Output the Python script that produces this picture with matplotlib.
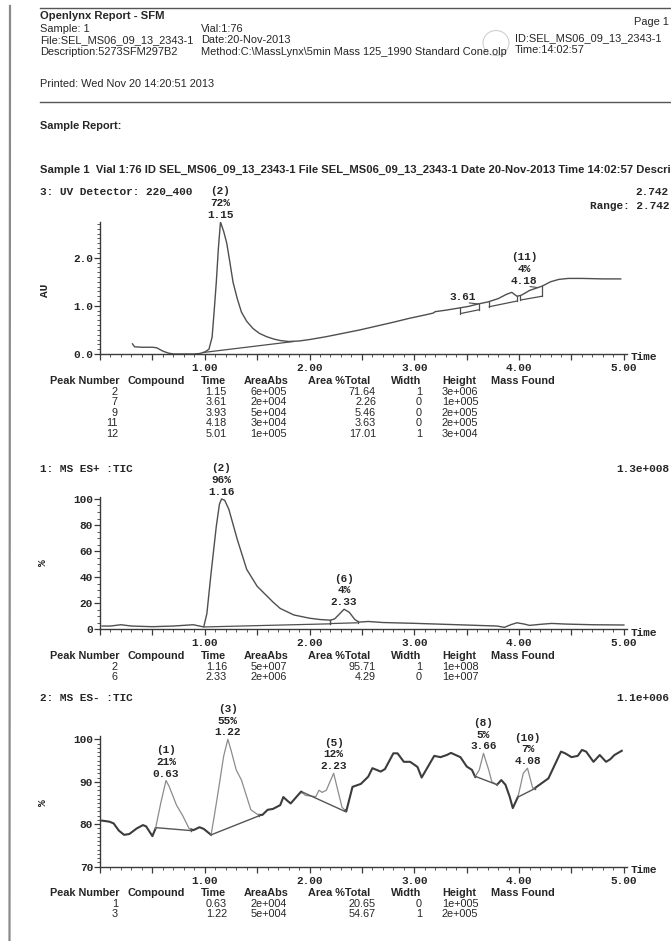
import matplotlib
matplotlib.use("Agg")
import matplotlib.pyplot as plt
import numpy as np
from matplotlib.ticker import MultipleLocator, FuncFormatter
from matplotlib.patches import Ellipse
from matplotlib.lines import Line2D

# ---------------------------------------------------------------- report data
REPORT_TITLE = "Openlynx Report - SFM"
HEADER_LEFT = ["Sample: 1", "File:SEL_MS06_09_13_2343-1", "Description:5273SFM297B2"]
HEADER_MID = ["Vial:1:76", "Date:20-Nov-2013",
              "Method:C:\\MassLynx\\5min Mass 125_1990 Standard Cone.olp"]
HEADER_RIGHT = ["ID:SEL_MS06_09_13_2343-1", "Time:14:02:57"]
PAGE_LABEL = "Page 1"
PRINTED = "Printed: Wed Nov 20 14:20:51 2013"
SECTION = "Sample Report:"
SAMPLE_LINE = ("Sample 1  Vial 1:76 ID SEL_MS06_09_13_2343-1 File SEL_MS06_09_13_2343-1 "
               "Date 20-Nov-2013 Time 14:02:57 Description 5273SFM297B2")

TABLE_COLUMNS = ["Peak Number", "Compound", "Time", "AreaAbs", "Area %Total",
                 "Width", "Height", "Mass Found"]

# --- 3: UV Detector 220_400 (AU)
UV_TIME = [0.31, 0.33, 0.40, 0.50, 0.54, 0.60, 0.65, 0.70, 0.80, 0.90, 0.95, 1.00,
           1.04, 1.07, 1.09, 1.11, 1.13, 1.15, 1.18, 1.21, 1.24, 1.27, 1.31, 1.35,
           1.40, 1.46, 1.52, 1.59, 1.66, 1.72, 1.80, 1.90, 2.00, 2.16, 2.32, 2.48,
           2.64, 2.80, 2.95, 3.10, 3.18, 3.20, 3.30, 3.44, 3.52, 3.61, 3.70, 3.80,
           3.88, 3.93, 3.98, 4.02, 4.10, 4.18, 4.22, 4.30, 4.38, 4.47, 4.60, 4.80, 4.97]
UV_AU = [0.21, 0.15, 0.14, 0.14, 0.13, 0.06, 0.02, 0.00, 0.00, 0.00, 0.01, 0.04,
         0.10, 0.35, 0.90, 1.49, 2.20, 2.742, 2.55, 2.30, 1.90, 1.49, 1.15, 0.87,
         0.68, 0.53, 0.43, 0.36, 0.31, 0.28, 0.26, 0.27, 0.30, 0.36, 0.43, 0.50,
         0.58, 0.66, 0.74, 0.81, 0.85, 0.88, 0.91, 0.96, 0.99, 1.04, 1.08, 1.15,
         1.24, 1.28, 1.20, 1.22, 1.32, 1.38, 1.41, 1.50, 1.55, 1.57, 1.57, 1.56, 1.56]
UV_FULL_SCALE = 2.742
UV_LABEL_PEAK = [2, 11]
UV_LABEL_PCT = [72, 4]
UV_LABEL_TIME = [1.15, 4.18]
UV_TIME_ONLY = [3.61]
# integration baselines: start time, end time, start level, end level
UV_BASELINES = [(0.98, 1.85, 0.03, 0.26), (3.44, 3.62, 0.84, 0.92),
                (3.71, 3.98, 0.98, 1.10), (4.01, 4.22, 1.12, 1.20)]
UV_TABLE = [("2", "1.15", "6e+005", "71.64", "1", "3e+006"),
            ("7", "3.61", "2e+004", "2.26", "0", "1e+005"),
            ("9", "3.93", "5e+004", "5.46", "0", "2e+005"),
            ("11", "4.18", "3e+004", "3.63", "0", "2e+005"),
            ("12", "5.01", "1e+005", "17.01", "1", "3e+004")]

# --- 1: MS ES+ TIC (%)
ESP_TIME = [0.02, 0.10, 0.20, 0.30, 0.50, 0.70, 0.89, 0.95, 0.99, 1.02, 1.06, 1.11,
            1.14, 1.16, 1.19, 1.23, 1.31, 1.40, 1.50, 1.65, 1.72, 1.85, 2.00, 2.10,
            2.20, 2.24, 2.33, 2.38, 2.43, 2.47, 2.56, 2.70, 2.99, 3.30, 3.60, 3.79,
            3.86, 3.92, 3.98, 4.05, 4.10, 4.20, 4.31, 4.45, 4.70, 5.00]
ESP_PCT = [2.5, 2.5, 3.5, 2.5, 2.0, 2.5, 3.5, 2.5, 1.8, 12, 43, 79,
           96, 100, 99, 92, 69, 46, 33, 21, 16, 11, 8.5, 7.5,
           7.0, 8.0, 15.4, 13, 7.7, 5.5, 6.0, 5.2, 4.6, 3.8, 3.0, 2.5,
           1.5, 3.5, 5.0, 4.0, 3.0, 3.8, 4.5, 4.0, 3.5, 3.3]
ESP_FULL_SCALE = "1.3e+008"
ESP_LABEL_PEAK = [2, 6]
ESP_LABEL_PCT = [96, 4]
ESP_LABEL_TIME = [1.16, 2.33]
ESP_BASELINES = [(0.99, 2.20, 1.8, 4.2), (2.20, 2.46, 4.4, 5.0)]
ESP_TABLE = [("2", "1.16", "5e+007", "95.71", "1", "1e+008"),
             ("6", "2.33", "2e+006", "4.29", "0", "1e+007")]

# --- 2: MS ES- TIC (%)
ESN_TIME = [0.02, 0.09, 0.13, 0.18, 0.23, 0.28, 0.35, 0.41, 0.44, 0.50, 0.53, 0.58,
            0.63, 0.66, 0.73, 0.79, 0.85, 0.89, 0.95, 0.99, 1.06, 1.09, 1.13, 1.18,
            1.22, 1.25, 1.30, 1.35, 1.40, 1.44, 1.51, 1.55, 1.60, 1.65, 1.72, 1.75,
            1.79, 1.82, 1.92, 1.96, 2.06, 2.09, 2.12, 2.16, 2.23, 2.31, 2.35, 2.41,
            2.49, 2.56, 2.60, 2.68, 2.72, 2.80, 2.84, 2.90, 2.96, 3.03, 3.07, 3.15,
            3.19, 3.25, 3.31, 3.35, 3.44, 3.50, 3.55, 3.58, 3.62, 3.66, 3.71, 3.74,
            3.79, 3.83, 3.87, 3.91, 3.94, 3.99, 4.04, 4.08, 4.13, 4.15, 4.28, 4.40,
            4.44, 4.50, 4.56, 4.60, 4.64, 4.71, 4.77, 4.83, 4.87, 4.91, 4.98]
ESN_PCT = [80.85, 80.6, 80.2, 78.5, 77.5, 77.7, 79.0, 79.8, 79.5, 77.2, 79.0, 85.0,
           90.3, 88.9, 84.5, 82.0, 79.0, 78.6, 79.3, 78.9, 77.5, 81.8, 88.0, 96.0,
           100.0, 97.5, 92.8, 90.4, 86.5, 83.4, 82.2, 82.2, 83.4, 83.6, 84.5, 86.4,
           85.5, 84.9, 87.7, 86.8, 86.5, 88.0, 87.5, 88.0, 92.0, 84.0, 83.0, 88.8,
           89.5, 91.2, 93.2, 92.4, 93.0, 96.7, 96.7, 94.7, 94.7, 93.5, 91.0, 94.4,
           96.1, 95.8, 96.3, 96.8, 95.8, 93.6, 92.8, 91.2, 92.8, 96.7, 92.8, 90.0,
           89.3, 90.4, 89.3, 86.5, 83.8, 86.5, 92.0, 93.2, 88.5, 88.5, 90.8, 97.1,
           96.7, 95.8, 96.1, 97.5, 97.1, 94.7, 96.3, 94.7, 95.3, 96.3, 97.3]
ESN_FULL_SCALE = "1.1e+006"
ESN_LABEL_PEAK = [1, 3, 5, 8, 10]
ESN_LABEL_PCT = [21, 55, 12, 5, 7]
ESN_LABEL_TIME = [0.63, 1.22, 2.23, 3.66, 4.08]
ESN_BASELINES = [(0.53, 0.87, 79.2, 78.5), (1.06, 1.52, 77.5, 82.0),
                 (1.93, 2.34, 87.6, 83.0), (3.58, 3.79, 91.3, 89.3),
                 (3.99, 4.15, 86.4, 88.4)]
ESN_TABLE = [("1", "0.63", "2e+004", "20.65", "0", "1e+005"),
             ("3", "1.22", "5e+004", "54.67", "1", "2e+005")]

# ---------------------------------------------------------------- page setup
W, H = 671, 941
fig = plt.figure(figsize=(W / 100, H / 100), dpi=100)
fig.patch.set_facecolor("white")

SANS = "Liberation Sans"
MONO = "Liberation Mono"
INK = "#262626"
TRACE = "#4f4f4f"
PX2PT = 72 / 100


def ftext(x, y, s, **kw):
    """Place text using page pixel coordinates (origin top-left)."""
    kw.setdefault("color", INK)
    kw.setdefault("va", "center")
    fig.text(x / W, 1 - y / H, s, **kw)


def fline(xs, ys, **kw):
    fig.add_artist(Line2D([x / W for x in xs], [1 - y / H for y in ys],
                          transform=fig.transFigure, **kw))


# page frame and rules
fline([10, 9.5], [6, 941], color="#8a8a8a", lw=1.6)
fline([40, W], [7.5, 7.5], color="#555555", lw=1.0)
fline([40, W], [102, 102], color="#555555", lw=1.0)
fig.add_artist(Ellipse((496 / W, 1 - 43 / H), 26 / W, 25 / H, transform=fig.transFigure,
                       fill=False, ec="#cfcfcf", lw=0.8))

# header block
ftext(40.5, 16, REPORT_TITLE, family=SANS, weight="bold", fontsize=8.1)
for i, s in enumerate(HEADER_LEFT):
    ftext(40.5, 28.5 + 11.8 * i, s, family=SANS, fontsize=7.9)
for i, s in enumerate(HEADER_MID):
    ftext(201, 28.5 + 11.8 * i, s, family=SANS, fontsize=7.9)
ftext(669, 22, PAGE_LABEL, family=SANS, fontsize=7.9, ha="right")
for i, s in enumerate(HEADER_RIGHT):
    ftext(515, 38 + 12 * i, s, family=SANS, fontsize=7.9)
ftext(40.5, 84, PRINTED, family=SANS, fontsize=7.9)
ftext(40.5, 126, SECTION, family=SANS, weight="bold", fontsize=7.9)
ftext(40.5, 170, SAMPLE_LINE, family=SANS, weight="bold", fontsize=8.1)

# ---------------------------------------------------------------- chart panels
X_LEFT, X_RIGHT = 100, 627
T_MAX = 5.03
MONO_KW = dict(family=MONO, weight="bold", fontsize=8, color=INK)


def make_axes(top, bottom, ylim, ymajor, yminor, yfmt):
    ax = fig.add_axes([X_LEFT / W, 1 - bottom / H, (X_RIGHT - X_LEFT) / W, (bottom - top) / H])
    ax.set_xlim(0, T_MAX)
    ax.set_ylim(*ylim)
    for side in ("top", "right"):
        ax.spines[side].set_visible(False)
    for side in ("left", "bottom"):
        ax.spines[side].set_color("#3a3a3a")
        ax.spines[side].set_linewidth(1.0)
    ax.xaxis.set_major_locator(MultipleLocator(0.5))
    ax.xaxis.set_minor_locator(MultipleLocator(0.1))
    ax.xaxis.set_major_formatter(FuncFormatter(
        lambda v, p: f"{v:.2f}" if v > 0.5 and abs(v - round(v)) < 1e-6 else ""))
    ax.yaxis.set_major_locator(MultipleLocator(ymajor))
    ax.yaxis.set_minor_locator(MultipleLocator(yminor))
    ax.yaxis.set_major_formatter(FuncFormatter(yfmt))
    ax.tick_params(which="major", direction="out", length=4, width=0.9, color="#3a3a3a")
    ax.tick_params(which="minor", direction="out", length=2.2, width=0.7, color="#555555")
    ax.tick_params(axis="x", pad=2.5)
    ax.tick_params(axis="y", pad=1)
    for lab in ax.get_xticklabels() + ax.get_yticklabels():
        lab.set_fontfamily(MONO)
        lab.set_fontweight("bold")
        lab.set_fontsize(8)
        lab.set_color(INK)
    ax.set_facecolor("none")
    ax.annotate("Time", xy=(1.0, 0), xycoords="axes fraction", xytext=(4 * PX2PT, -3.5 * PX2PT),
                textcoords="offset points", ha="left", va="center",
                annotation_clip=False, **MONO_KW)
    return ax


def draw_baselines(ax, T, V, baselines, color, lw):
    for t0, t1, b0, b1 in baselines:
        ax.plot([t0, t1], [b0, b1], color=color, lw=lw, solid_capstyle="butt")
        for t, b in ((t0, b0), (t1, b1)):
            ax.plot([t, t], [np.interp(t, T, V), b], color=color, lw=lw)


def peak_label(ax, T, V, peak, pct, t, dx_px=0, leader=False):
    lines = [] if peak is None else [f"({peak})", f"{pct}%"]
    lines.append(f"{t:.2f}")
    apex = np.interp(t, T, V)
    base = 7.0
    for k, s in enumerate(reversed(lines)):
        ax.annotate(s, xy=(t, apex), xytext=(dx_px * PX2PT, (base + 11.8 * k) * PX2PT),
                    textcoords="offset points", ha="center", va="center",
                    annotation_clip=False, **MONO_KW)
    if leader:
        ax.annotate("", xy=(t, apex), xytext=(dx_px * PX2PT + 6 * PX2PT, 1 * PX2PT),
                    textcoords="offset points",
                    arrowprops=dict(arrowstyle="-", color=TRACE, lw=0.8, shrinkA=0, shrinkB=0))


def draw_table(header_y, rows):
    hx = [50, 127, 201, 244, 308, 391, 442, 491]
    for x, s in zip(hx, TABLE_COLUMNS):
        ftext(x, header_y, s, family=SANS, weight="bold", fontsize=7.8)
    for i, r in enumerate(rows):
        y = header_y + 11.0 + 10.4 * i
        ftext(118, y, r[0], family=SANS, fontsize=7.8, ha="right")
        ftext(227, y, r[1], family=SANS, fontsize=7.8, ha="right")
        ftext(287, y, r[2], family=SANS, fontsize=7.8, ha="right")
        ftext(376, y, r[3], family=SANS, fontsize=7.8, ha="right")
        ftext(422, y, r[4], family=SANS, fontsize=7.8, ha="right")
        ftext(442, y, r[5], family=SANS, fontsize=7.8, ha="left")


def pieces(T, V, a, b):
    T = np.asarray(T, float)
    V = np.asarray(V, float)
    inner = (T > a) & (T < b)
    ts = np.concatenate([[a], T[inner], [b]])
    return ts, np.interp(ts, T, V)


# ---- panel: UV detector
ftext(40.5, 192, "3: UV Detector: 220_400", **MONO_KW)
ftext(669, 192, f"{UV_FULL_SCALE:.3f}", ha="right", **MONO_KW)
ftext(669, 206, f"Range: {UV_FULL_SCALE:.3f}", ha="right", **MONO_KW)
ax1 = make_axes(222, 354, (0, UV_FULL_SCALE), 1.0, 0.1, lambda v, p: f"{v:.1f}")
ax1.plot(UV_TIME, UV_AU, color=TRACE, lw=1.0)
draw_baselines(ax1, UV_TIME, UV_AU, UV_BASELINES, TRACE, 0.9)
peak_label(ax1, UV_TIME, UV_AU, UV_LABEL_PEAK[0], UV_LABEL_PCT[0], UV_LABEL_TIME[0])
peak_label(ax1, UV_TIME, UV_AU, UV_LABEL_PEAK[1], UV_LABEL_PCT[1], UV_LABEL_TIME[1],
           dx_px=-14, leader=True)
peak_label(ax1, UV_TIME, UV_AU, None, None, UV_TIME_ONLY[0], dx_px=-15, leader=True)
ftext(45, 290, "AU", rotation=90, ha="center", **MONO_KW)
draw_table(381, UV_TABLE)

# ---- panel: MS ES+
ftext(40.5, 469, "1: MS ES+ :TIC", **MONO_KW)
ftext(669, 469, ESP_FULL_SCALE, ha="right", **MONO_KW)
ax2 = make_axes(497, 629.3, (0, 101.5), 20, 5, lambda v, p: f"{v:.0f}")
ax2.plot(ESP_TIME, ESP_PCT, color=TRACE, lw=1.0)
draw_baselines(ax2, ESP_TIME, ESP_PCT, ESP_BASELINES, TRACE, 0.9)
for pk, pc, t in zip(ESP_LABEL_PEAK, ESP_LABEL_PCT, ESP_LABEL_TIME):
    peak_label(ax2, ESP_TIME, ESP_PCT, pk, pc, t)
ftext(43, 563, "%", rotation=90, ha="center", **MONO_KW)
draw_table(656, ESP_TABLE)

# ---- panel: MS ES-
ftext(40.5, 698, "2: MS ES- :TIC", **MONO_KW)
ftext(669, 698, ESN_FULL_SCALE, ha="right", **MONO_KW)
ax3 = make_axes(736, 866.7, (70, 100.78), 10, 1, lambda v, p: f"{v:.0f}")
windows = [(b[0], b[1]) for b in ESN_BASELINES]
edges = [ESN_TIME[0]] + [e for w in windows for e in w] + [ESN_TIME[-1]]
for a, b in zip(edges[0::2], edges[1::2]):
    ts, vs = pieces(ESN_TIME, ESN_PCT, a, b)
    ax3.plot(ts, vs, color="#3c3c3c", lw=1.5)
for a, b in windows:
    ts, vs = pieces(ESN_TIME, ESN_PCT, a, b)
    ax3.plot(ts, vs, color="#8c8c8c", lw=0.9)
draw_baselines(ax3, ESN_TIME, ESN_PCT, ESN_BASELINES, "#555555", 1.0)
for pk, pc, t in zip(ESN_LABEL_PEAK, ESN_LABEL_PCT, ESN_LABEL_TIME):
    peak_label(ax3, ESN_TIME, ESN_PCT, pk, pc, t)
ftext(43, 803, "%", rotation=90, ha="center", **MONO_KW)
draw_table(893, ESN_TABLE)

fig.savefig("out.png", dpi=100, facecolor="white")
